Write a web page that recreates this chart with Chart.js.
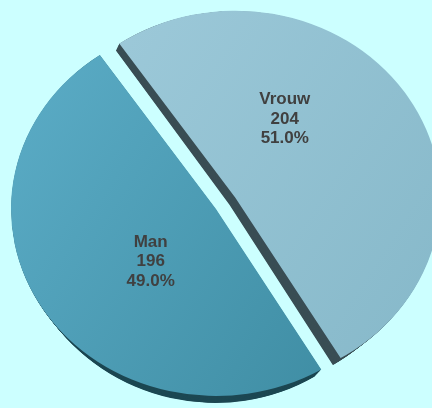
<!DOCTYPE html>
<html>
<head>
<meta charset="utf-8">
<script src="https://cdn.jsdelivr.net/npm/chart.js@4.4.1/dist/chart.umd.min.js"></script>
<style>
  html, body { margin: 0; padding: 0; background: #ccffff; }
  canvas { display: block; }
</style>
</head>
<body>
<canvas id="pieChart" width="432" height="408"></canvas>
<script>
/* ---------------- DATA ---------------- */
const categories = ["Vrouw", "Man"];
const counts = [204, 196];
const percentLabels = ["51.0%", "49.0%"];

/* ---------------- LOOK ---------------- */
const faceLight = ["#9ecada", "#5aabc5"];
const faceDark = ["#87b9ca", "#3d8ba1"];
const sideColors = ["#3a4e55", "#1d4853"];
const explode = [23, 0];          // px, along slice middle
const labelShift = [-27.5, -8.6]; // degrees from slice middle
const labelDist = [0.485, 0.424]; // share of radius

const CX = 216, CY = 209, R = 205, SQUASH = 0.912;
// depth: x' = x + DA*x + DB*y + DC, y' = y + DY (relative to centre)
const DA = -0.05, DB = 0.021, DC = -4.7, DY = 7;

function faceGradient(ctx, i) {
  const g = ctx.createLinearGradient(CX - R, CY - R * 0.6, CX + R, CY + R * 0.6);
  g.addColorStop(0, faceLight[i]);
  g.addColorStop(1, faceDark[i]);
  return g;
}

function drawSlice(ctx, arc, i, color) {
  const mid = (arc.startAngle + arc.endAngle) / 2;
  ctx.translate(Math.cos(mid) * explode[i], Math.sin(mid) * explode[i]);
  const saved = arc.options;
  if (color) arc.options = Object.assign({}, saved, { backgroundColor: color, borderWidth: 0 });
  arc.draw(ctx);
  arc.options = saved;
}

/* ---------------- 3D PLUGIN ---------------- */
const pie3d = {
  id: "pie3d",
  beforeDatasetsDraw(chart) {
    const ctx = chart.ctx;
    const arcs = chart.getDatasetMeta(0).data;
    const steps = 16;

    // side walls, deepest first
    for (let k = steps; k >= 1; k--) {
      const t = k / steps;
      arcs.forEach((arc, i) => {
        ctx.save();
        ctx.translate(CX, CY);
        ctx.transform(1 + DA * t, 0, DB * t, 1, DC * t, DY * t);
        ctx.scale(1, SQUASH);
        ctx.translate(-CX, -CY);
        drawSlice(ctx, arc, i, sideColors[i]);
        ctx.restore();
      });
    }

    // top faces
    arcs.forEach((arc, i) => {
      ctx.save();
      ctx.translate(CX, CY);
      ctx.scale(1, SQUASH);
      ctx.translate(-CX, -CY);
      drawSlice(ctx, arc, i, null);
      ctx.restore();
    });
    return false;
  },
  afterDraw(chart) {
    const ctx = chart.ctx;
    const arcs = chart.getDatasetMeta(0).data;
    ctx.save();
    ctx.font = "bold 17px 'Liberation Sans', Arial, sans-serif";
    ctx.fillStyle = "#404040";
    ctx.textAlign = "center";
    ctx.textBaseline = "middle";
    arcs.forEach((arc, i) => {
      const { x, y, startAngle, endAngle, outerRadius } = arc.getProps(["x", "y", "startAngle", "endAngle", "outerRadius"]);
      const mid = (startAngle + endAngle) / 2;
      const a = mid + labelShift[i] * Math.PI / 180;
      const px = x + Math.cos(mid) * explode[i] + Math.cos(a) * outerRadius * labelDist[i];
      const py = y + Math.sin(mid) * explode[i] + Math.sin(a) * outerRadius * labelDist[i];
      const sy = CY + (py - CY) * SQUASH;
      const lines = [categories[i], String(counts[i]), percentLabels[i]];
      lines.forEach((s, j) => ctx.fillText(s, px, sy + (j - 1) * 19.5));
    });
    ctx.restore();
  }
};

/* ---------------- CHART ---------------- */
const pieCtx = document.getElementById("pieChart");

new Chart(pieCtx, {
  type: "pie",
  data: {
    labels: categories,
    datasets: [{
      data: counts,
      backgroundColor: c => faceGradient(c.chart.ctx, c.dataIndex),
      borderWidth: 0,
      radius: R,
      clip: false
    }]
  },
  options: {
    responsive: false,
    animation: false,
    events: [],
    rotation: -34.5,
    layout: { padding: { left: 0, right: 0, top: 10, bottom: 0 } },
    plugins: {
      legend: { display: false },
      tooltip: { enabled: false }
    }
  },
  plugins: [pie3d]
});
</script>
</body>
</html>
